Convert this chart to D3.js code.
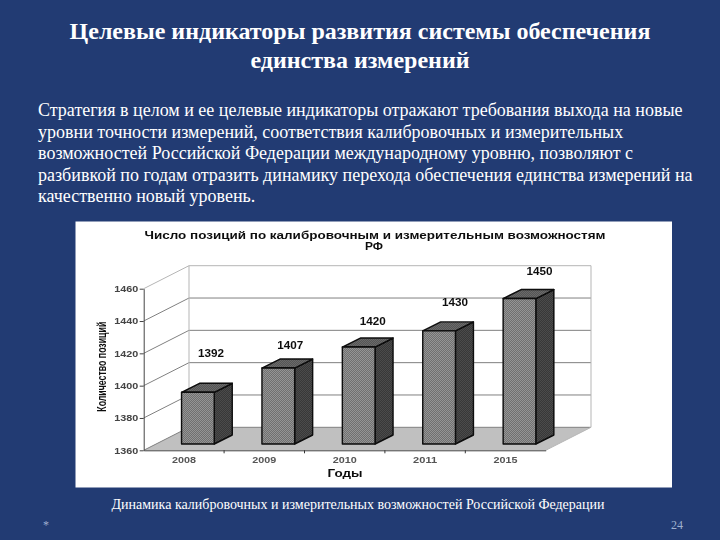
<!DOCTYPE html>
<html>
<head>
<meta charset="utf-8">
<script src="https://cdnjs.cloudflare.com/ajax/libs/d3/7.8.5/d3.min.js"></script>
<style>
  html, body { margin: 0; padding: 0; background: #223b73; }
  svg { display: block; }
  .serif { font-family: "Liberation Serif", serif; fill: #fff; }
  .sans { font-family: "Liberation Sans", sans-serif; fill: #111; }
</style>
</head>
<body>
<div id="slide"></div>
<script>
const titleLines = ["Целевые индикаторы развития системы обеспечения", "единства измерений"];
const bodyLines = [
  "Стратегия в целом и ее целевые индикаторы отражают требования выхода на новые",
  "уровни точности измерений, соответствия калибровочных и измерительных",
  "возможностей Российской Федерации международному уровню, позволяют с",
  "разбивкой по годам отразить динамику перехода обеспечения единства измерений на",
  "качественно новый уровень."
];
const chartTitleLines = ["Число позиций по калибровочным и измерительным возможностям", "РФ"];
const caption = "Динамика калибровочных и измерительных возможностей Российской Федерации";

const years = ["2008", "2009", "2010", "2011", "2015"];
const positions = [1392, 1407, 1420, 1430, 1450];
const yTicks = [1360, 1380, 1400, 1420, 1440, 1460];
// the data labels float unevenly above the bars in the original
const labelLift = [35, 19, 22, 25, 24];
const labelShift = [13, 12, 14, 16, 20];

const svg = d3.select("#slide").append("svg").attr("width", 720).attr("height", 540);

// slide texts
const title = svg.append("g").attr("class", "serif")
  .attr("font-size", 24).attr("font-weight", "bold").attr("text-anchor", "middle");
titleLines.forEach((t, i) => title.append("text").attr("x", 360).attr("y", 39 + i * 29).text(t));

const body = svg.append("g").attr("class", "serif").attr("font-size", 18);
bodyLines.forEach((t, i) => body.append("text").attr("x", 38).attr("y", 116 + i * 21.6).text(t));

svg.append("text").attr("class", "serif").attr("x", 358).attr("y", 509)
  .attr("text-anchor", "middle").attr("font-size", 14).text(caption);
svg.append("text").attr("class", "serif").attr("x", 46).attr("y", 529)
  .attr("text-anchor", "middle").attr("font-size", 12).style("fill", "#9fb0cf").text("*");
svg.append("text").attr("class", "serif").attr("x", 677).attr("y", 529)
  .attr("text-anchor", "middle").attr("font-size", 12).style("fill", "#9fb0cf").text("24");

// chart panel
svg.append("rect").attr("x", 75.5).attr("y", 221.5).attr("width", 596.5).attr("height", 266).attr("fill", "#fff");

const defs = svg.append("defs");
defs.append("filter").attr("id", "soft").append("feGaussianBlur").attr("stdDeviation", 0.35);
function dither(id, a, b) {
  const p = defs.append("pattern").attr("id", id).attr("width", 2).attr("height", 2)
    .attr("patternUnits", "userSpaceOnUse");
  p.append("rect").attr("width", 2).attr("height", 2).attr("fill", a);
  p.append("rect").attr("width", 1).attr("height", 1).attr("fill", b);
  p.append("rect").attr("x", 1).attr("y", 1).attr("width", 1).attr("height", 1).attr("fill", b);
}
dither("front", "#707070", "#959595");
dither("side", "#383838", "#4c4c4c");
dither("top", "#555555", "#6a6a6a");

const x = d3.scaleBand().domain(years).range([143.7, 545.7]);
const y = d3.scaleLinear().domain([1360, 1460]).range([450.3, 288.7]);

const depthX = 45.3, depthY = 23;
const barW = 32.7, barDX = 18, barDY = 9;
const barOffX = 14, barOffY = 6.3;

const chart = svg.append("g").attr("filter", "url(#soft)");

// floor
chart.append("path")
  .attr("d", `M${x.range()[0]},${y(1360)}L${x.range()[0] + depthX},${y(1360) - depthY}L${x.range()[1] + depthX},${y(1360) - depthY}L${x.range()[1]},${y(1360)}Z`)
  .attr("fill", "#c0c0c0");

// back wall and gridlines
yTicks.forEach(t => {
  chart.append("path")
    .attr("d", `M${x.range()[0]},${y(t)}L${x.range()[0] + depthX},${y(t) - depthY}L${x.range()[1] + depthX},${y(t) - depthY}`)
    .attr("fill", "none").attr("stroke", t === 1460 ? "#b5b5b5" : "#808080");
});
chart.append("path")
  .attr("d", `M${x.range()[0] + depthX},${y(1360) - depthY}V${y(1460) - depthY}M${x.range()[1] + depthX},${y(1360) - depthY}V${y(1460) - depthY}`)
  .attr("stroke", "#b5b5b5").attr("fill", "none");
chart.append("path")
  .attr("d", `M${x.range()[1]},${y(1360)}L${x.range()[1] + depthX},${y(1360) - depthY}`)
  .attr("stroke", "#b5b5b5").attr("fill", "none");

// bars
const bars = chart.selectAll("g.bar").data(years).enter().append("g").attr("class", "bar");
const barX = d => x(d) + x.bandwidth() / 2 + barOffX - barW / 2;
const barValue = (d, i) => y(positions[i]) - barOffY;
const barBase = y(1360) - barOffY;
bars.append("path").attr("fill", "url(#side)")
  .attr("d", (d, i) => {
    const l = barX(d) + barW, t = barValue(d, i);
    return `M${l},${t}L${l + barDX},${t - barDY}V${barBase - barDY}L${l},${barBase}Z`;
  });
bars.append("path").attr("fill", "url(#top)")
  .attr("d", (d, i) => {
    const l = barX(d), t = barValue(d, i);
    return `M${l},${t}L${l + barDX},${t - barDY}H${l + barW + barDX}L${l + barW},${t}Z`;
  });
bars.append("rect").attr("fill", "url(#front)")
  .attr("x", barX).attr("y", barValue).attr("width", barW)
  .attr("height", (d, i) => barBase - barValue(d, i));
bars.selectAll("path,rect").attr("stroke", "#0a0a0a").attr("stroke-width", 1.4).attr("stroke-linejoin", "round");

// axes
const xAxis = chart.append("g").attr("transform", `translate(0,${y(1360)})`)
  .call(d3.axisBottom(x).tickSize(3).tickSizeOuter(0));
xAxis.selectAll(".tick").remove();
xAxis.select("path").attr("stroke", "#444");
years.forEach((d, i) => {
  if (i > 0) xAxis.append("line").attr("x1", x(d)).attr("x2", x(d)).attr("y2", 3).attr("stroke", "#333");
});
chart.selectAll("text.year").data(years).enter().append("text")
  .attr("class", "year sans").attr("x", d => x(d) + x.bandwidth() / 2)
  .attr("y", 462.5).attr("text-anchor", "middle").attr("font-size", 9).attr("font-weight", "bold")
  .attr("textLength", 24).attr("lengthAdjust", "spacingAndGlyphs")
  .style("fill", "#555").text(d => d);
const yAxis = chart.append("g").attr("transform", `translate(${x.range()[0]},0)`)
  .call(d3.axisLeft(y).tickValues(yTicks).tickSize(4).tickSizeOuter(0).tickFormat(d3.format("d")));
yAxis.selectAll("path,line").attr("stroke", "#444");
yAxis.selectAll("text").attr("class", "sans").attr("font-size", 9).attr("font-weight", "bold")
  .attr("font-family", "Liberation Sans").style("fill", "#444").attr("x", -5.5)
  .attr("textLength", 24).attr("lengthAdjust", "spacingAndGlyphs");

// data labels
chart.selectAll("text.val").data(positions).enter().append("text")
  .attr("class", "val sans")
  .attr("x", (d, i) => barX(years[i]) + barW / 2 + labelShift[i])
  .attr("y", (d, i) => barValue(years[i], i) - labelLift[i])
  .attr("text-anchor", "middle").attr("font-size", 10.5).attr("font-weight", "bold")
  .attr("textLength", 26).attr("lengthAdjust", "spacingAndGlyphs").text(d => d);

// chart titles
const ct = chart.append("g").attr("class", "sans").attr("font-size", 10).attr("font-weight", "bold")
  .attr("text-anchor", "middle");
ct.append("text").attr("x", 375).attr("y", 239)
  .attr("textLength", 461).attr("lengthAdjust", "spacingAndGlyphs").text(chartTitleLines[0]);
ct.append("text").attr("x", 374).attr("y", 250)
  .attr("textLength", 18).attr("lengthAdjust", "spacingAndGlyphs").text(chartTitleLines[1]);
chart.append("text").attr("class", "sans").attr("x", 345).attr("y", 476.5)
  .attr("text-anchor", "middle").attr("font-size", 10.5).attr("font-weight", "bold")
  .attr("textLength", 35).attr("lengthAdjust", "spacingAndGlyphs").text("Годы");
chart.append("text").attr("class", "sans").attr("transform", "translate(105.5,366.7) rotate(-90)")
  .attr("text-anchor", "middle").attr("font-size", 12).attr("font-weight", "bold")
  .attr("textLength", 90).attr("lengthAdjust", "spacingAndGlyphs").text("Количество позиций");
</script>
</body>
</html>
